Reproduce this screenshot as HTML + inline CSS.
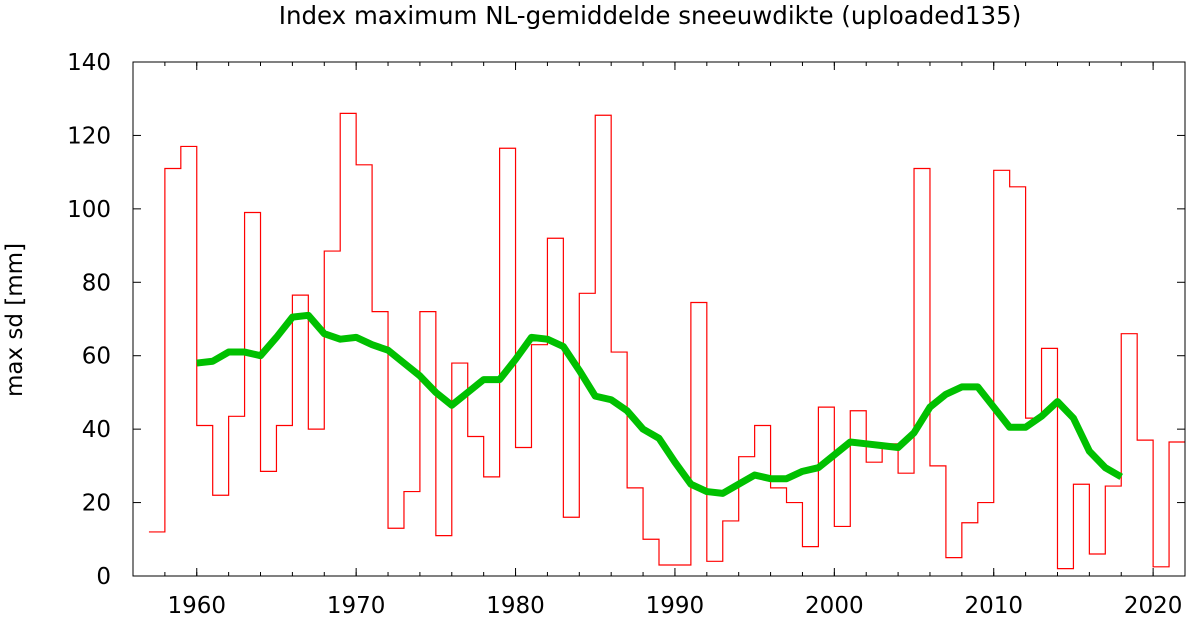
<!DOCTYPE html>
<html><head><meta charset="utf-8"><style>
html,body{margin:0;padding:0;background:#fff;}
svg{display:block;font-family:"DejaVu Sans","Liberation Sans",sans-serif;}
</style></head><body>
<svg id="s" width="1200" height="617" xmlns="http://www.w3.org/2000/svg"></svg>
<script>
const X0=133,X1=1185,Y0=576,Y1=62;
const xs=y=>X0+(y-1956)*(X1-X0)/66;
const ys=v=>Y0-v*(Y0-Y1)/140;
let h='';
h+=`<text x="650" y="24" font-size="24.5" text-anchor="middle" fill="#000">Index maximum NL-gemiddelde sneeuwdikte (uploaded135)</text>`;
h+=`<text transform="translate(22,320) rotate(-90)" font-size="23" text-anchor="middle">max sd [mm]</text>`;
for(let v=0;v<=140;v+=20){const y=ys(v);
 h+=`<line x1="${X0}" y1="${y}" x2="${X0+8}" y2="${y}" stroke="#000"/><line x1="${X1}" y1="${y}" x2="${X1-8}" y2="${y}" stroke="#000"/>`;
 h+=`<text x="${X0-22}" y="${y+8}" font-size="23" text-anchor="end">${v}</text>`;}
for(let yr=1960;yr<=2020;yr+=10){const x=xs(yr);
 h+=`<line x1="${x}" y1="${Y0}" x2="${x}" y2="${Y0-8}" stroke="#000"/><line x1="${x}" y1="${Y1}" x2="${x}" y2="${Y1+8}" stroke="#000"/>`;
 h+=`<text x="${x}" y="${Y0+37}" font-size="23" text-anchor="middle">${yr}</text>`;}
for(let yr=1956;yr<=2022;yr+=2){const x=xs(yr);
 h+=`<line x1="${x}" y1="${Y0}" x2="${x}" y2="${Y0-4}" stroke="#000"/><line x1="${x}" y1="${Y1}" x2="${x}" y2="${Y1+4}" stroke="#000"/>`;}
const d=[12,111,117,41,22,43.5,99,28.5,41,76.5,40,88.5,126,112,72,13,23,72,11,58,38,27,116.5,35,63,92,16,77,125.5,61,24,10,3,3,74.5,4,15,32.5,41,24,20,8,46,13.5,45,31,36,28,111,30,5,14.5,20,110.5,106,43,62,2,25,6,24.5,66,37,2.5,36.5];
let p='';d.forEach((v,i)=>{const yr=1957+i;p+=(i?'L':'M')+xs(yr)+','+ys(v)+'L'+xs(yr+1)+','+ys(v);});
h+=`<path d="${p}" fill="none" stroke="#ff0000" stroke-width="1.2"/>`;
const g=[58,58.5,61,61,60,65,70.5,71,66,64.5,65,63,61.5,58,54.5,50,46.5,50,53.5,53.5,59,65,64.5,62.5,56,49,48,45,40,37.5,31,25,23,22.5,25,27.5,26.5,26.5,28.5,29.5,33,36.5,36,35.5,35,39,46,49.5,51.5,51.5,46,40.5,40.5,43.5,47.5,43,34,29.5,27];
let q='';g.forEach((v,i)=>{q+=(i?'L':'M')+xs(1960+i)+','+ys(v);});
h+=`<path d="${q}" fill="none" stroke="#00c000" stroke-width="7" stroke-linejoin="round"/>`;
h+=`<rect x="${X0}" y="${Y1}" width="${X1-X0}" height="${Y0-Y1}" fill="none" stroke="#000" stroke-width="1"/>`;
document.getElementById('s').innerHTML=h;
</script>
</body></html>
